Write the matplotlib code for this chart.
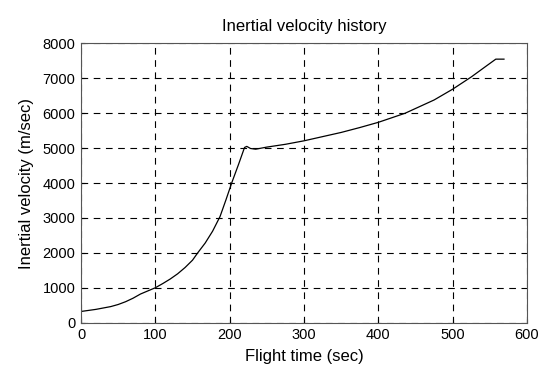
import numpy as np
import matplotlib
matplotlib.use("Agg")
import matplotlib.pyplot as plt

plt.rcParams['font.family'] = ['Liberation Sans', 'DejaVu Sans']

# flight time (sec) and inertial velocity (m/sec)
flight_time = [0, 10, 20, 30, 40, 50, 60, 70, 80, 90, 100, 110, 120, 130, 140,
               150, 157, 167, 177, 187, 195, 203, 212, 220, 223, 228, 235, 250,
               275, 300, 325, 350, 375, 400, 436, 475, 500, 525, 545, 558, 569]
velocity = [320, 350, 380, 420, 460, 520, 600, 700, 820, 910, 1000, 1120, 1250,
            1400, 1580, 1790, 2000, 2280, 2620, 3040, 3520, 4020, 4540, 5020,
            5050, 4990, 4970, 5030, 5110, 5210, 5330, 5450, 5590, 5740, 6000,
            6380, 6690, 7040, 7350, 7550, 7550]

x_ticks = [0, 100, 200, 300, 400, 500, 600]
y_ticks = [0, 1000, 2000, 3000, 4000, 5000, 6000, 7000, 8000]

fig = plt.figure(figsize=(5.38, 3.70), dpi=100)
ax = fig.add_axes([0.1506, 0.128, 0.829, 0.7546])

ax.plot(flight_time, velocity, color='black', lw=0.9)

ax.set_xlim(0, 600)
ax.set_ylim(0, 8000)
ax.set_xticks(x_ticks)
ax.set_yticks(y_ticks)
ax.tick_params(direction='in', labelsize=10.5, length=3, colors='black', pad=4)
ax.grid(True, color='black', linestyle=(0, (6, 5)), linewidth=0.8)
for s in ax.spines.values():
    s.set_linewidth(0.8)
    s.set_color('#555555')

ax.set_title('Inertial velocity history', fontsize=12, pad=9)
ax.set_xlabel('Flight time (sec)', fontsize=12, labelpad=5)
ax.set_ylabel('Inertial velocity (m/sec)', fontsize=12, labelpad=6)

fig.savefig('out.png', dpi=100)
